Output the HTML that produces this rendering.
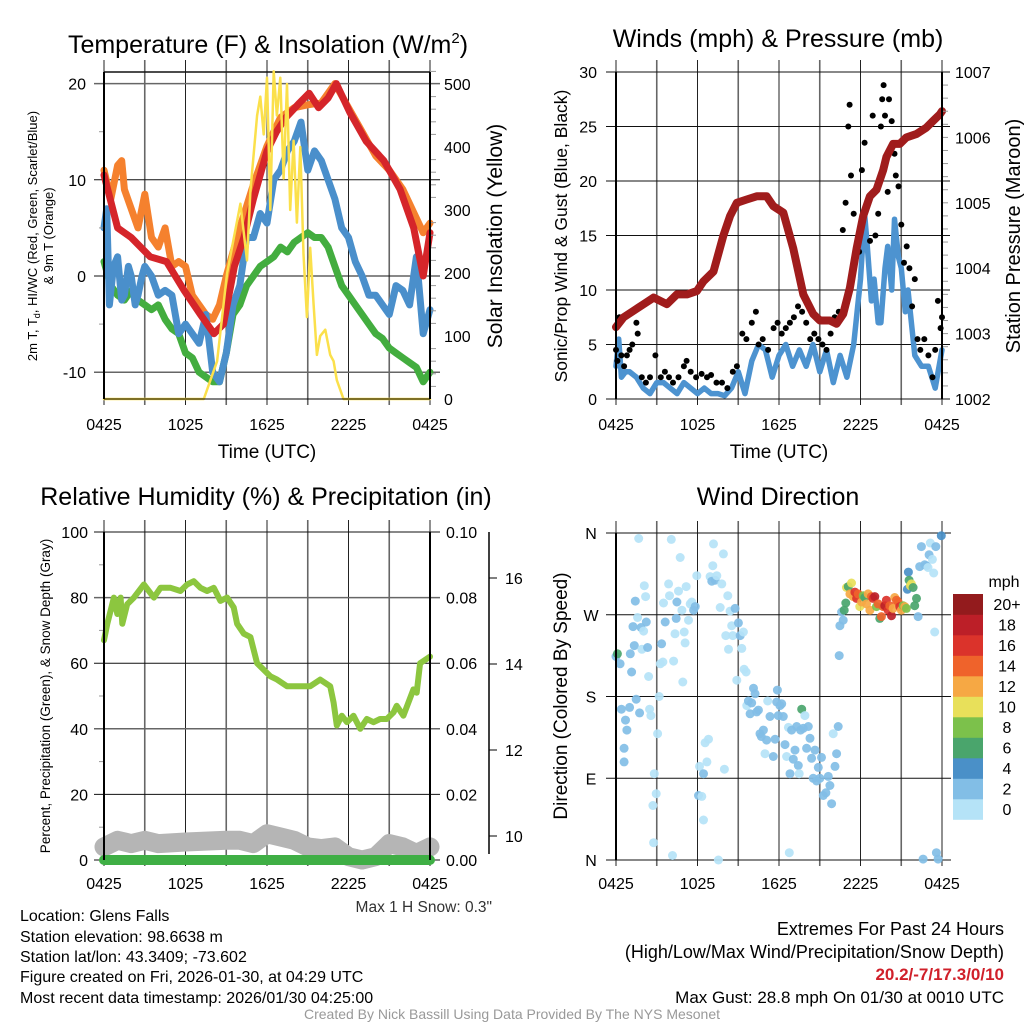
<!DOCTYPE html>
<html><head><meta charset="utf-8">
<style>
html,body{margin:0;padding:0;background:#fff;}
svg{display:block;font-family:"Liberation Sans",sans-serif;}
</style></head>
<body>
<svg id="chart" width="1024" height="1024" viewBox="0 0 1024 1024" xmlns="http://www.w3.org/2000/svg">
<rect width="1024" height="1024" fill="#fff"/>
<g id="grid"></g>
<g id="marks"></g>
<g id="axes"></g>
<g id="labels" font-family="Liberation Sans, sans-serif" fill="#000">
  <text x="268" y="53" font-size="25" text-anchor="middle">Temperature (F) &amp; Insolation (W/m<tspan dy="-10" font-size="15">2</tspan><tspan dy="10">)</tspan></text>
  <text x="778" y="47" font-size="25" text-anchor="middle">Winds (mph) &amp; Pressure (mb)</text>
  <text x="266" y="505" font-size="25" text-anchor="middle">Relative Humidity (%) &amp; Precipitation (in)</text>
  <text x="778" y="505" font-size="25" text-anchor="middle">Wind Direction</text>

  <text x="267" y="458" font-size="19" text-anchor="middle">Time (UTC)</text>
  <text x="779" y="458" font-size="19" text-anchor="middle">Time (UTC)</text>

  <text transform="translate(37,236) rotate(-90)" font-size="13" text-anchor="middle">2m T, T<tspan dy="3" font-size="9">d</tspan><tspan dy="-3">, HI/WC (Red, Green, Scarlet/Blue)</tspan></text>
  <text transform="translate(53,236) rotate(-90)" font-size="13" text-anchor="middle">&amp; 9m T (Orange)</text>
  <text transform="translate(502,236) rotate(-90)" font-size="21" text-anchor="middle">Solar Insolation (Yellow)</text>
  <text transform="translate(567,236) rotate(-90)" font-size="17.5" text-anchor="middle">Sonic/Prop Wind &amp; Gust (Blue, Black)</text>
  <text transform="translate(1020,236) rotate(-90)" font-size="20" text-anchor="middle">Station Pressure (Maroon)</text>
  <text transform="translate(50,696) rotate(-90)" font-size="13.5" text-anchor="middle">Percent, Precipitation (Green), &amp; Snow Depth (Gray)</text>
  <text transform="translate(567,696) rotate(-90)" font-size="19" text-anchor="middle">Direction (Colored By Speed)</text>

  <text x="492" y="912" font-size="15.5" text-anchor="end" fill="#333">Max 1 H Snow: 0.3"</text>

  <text x="20" y="921" font-size="16">Location: Glens Falls</text>
  <text x="20" y="942" font-size="16">Station elevation: 98.6638 m</text>
  <text x="20" y="962" font-size="16">Station lat/lon: 43.3409; -73.602</text>
  <text x="20" y="982" font-size="16">Figure created on Fri, 2026-01-30, at 04:29 UTC</text>
  <text x="20" y="1003" font-size="16">Most recent data timestamp: 2026/01/30 04:25:00</text>

  <text x="1004" y="935" font-size="18" text-anchor="end">Extremes For Past 24 Hours</text>
  <text x="1004" y="958" font-size="18" text-anchor="end">(High/Low/Max Wind/Precipitation/Snow Depth)</text>
  <text x="1004" y="980" font-size="17" font-weight="bold" fill="#d0202a" text-anchor="end">20.2/-7/17.3/0/10</text>
  <text x="1004" y="1003" font-size="17" text-anchor="end">Max Gust: 28.8 mph On 01/30 at 0010 UTC</text>
  <text x="512" y="1019" font-size="14" text-anchor="middle" fill="#999">Created By Nick Bassill Using Data Provided By The NYS Mesonet</text>
</g>
</svg>
<script>
// ---------- DATA ----------
const timeTickLabels = ["0425","1025","1625","2225","0425"];
const tempTicks = [-10,0,10,20];
const insolTicks = [0,100,200,300,400,500];
const windTicks = [0,5,10,15,20,25,30];
const pressTicks = [1002,1003,1004,1005,1006,1007];
const rhTicks = [0,20,40,60,80,100];
const precipTicks = ["0.00","0.02","0.04","0.06","0.08","0.10"];
const snowTicks = [10,12,14,16];
const dirTickLabels = ["N","E","S","W","N"];
const speedLegendLabels = ["0","2","4","6","8","10","12","14","16","18","20+"];
const speedColors = ["#b5e3f7","#82bee6","#4a90c8","#4aa56c","#7cc14b","#e8e05a","#f6a844","#ef632b","#db332b","#bc1f28","#931b1d"];

const redHours = [0,1,2,3.4,4.6,5.9,7.1,8.1,8.8,9.6,10.3,11,12,12.7,13.4,14.4,15.1,15.8,16.5,17.1,18.1,19.3,20.6,21.8,22.8,23.5,24];
const redTemp  = [10.5,5,4,2,1.5,-1.5,-4,-6,-5,1,4,8,13,15,16.5,18,19,17.5,18.5,20,17,14,12,9,5,0,4.5];

const orangeHours = [0,0.5,1,1.3,1.5,2,2.5,3,3.5,4,4.5,5,5.5,6,6.5,7,7.5,8,8.5,9,10,11,12,13,14,15,16,17,18,19,20,21,22,23,23.5,24];
const orangeTemp  = [11,8,11.5,12,9,7,5,8.5,4,3,5,1,1.5,1,-2,-3,-4,-4.5,-3,0,5,9.5,13.5,16.5,17.5,17.8,18,20,17.5,15,12.5,11,9,6,4.5,5.5];

const blueHours = [0,0.2,0.4,0.7,1,1.3,1.5,1.8,2,2.3,2.5,2.8,3,3.5,4,4.5,5,5.5,6,6.5,7,7.5,8,8.5,9,9.5,10,10.5,11,11.5,12,12.5,13,13.5,14,14.5,15,15.5,16,16.5,17,17.5,18,18.5,19,19.5,20,20.5,21,21.5,22,22.5,23,23.5,24];
const blueTemp  = [5,7,-3,1,2,-2.5,-2,1,0,-3,-2,0,1,0,-2,-1.5,-2,-6,-5,-6,-7,-4,-10,-11,-8,-3,-1,4,4,6.5,5.5,10,11,13,14,16,11,13,12,10,8,5,4,1.5,0,-2,-2,-3,-4,-1,-1.5,-3,2,-6,-3.5];

const greenHours = [0,0.5,1,1.5,2,2.5,3,3.5,4,4.5,5,5.5,6,6.5,7,7.5,8,8.5,9,9.5,10,10.5,11,11.5,12,12.5,13,13.5,14,14.5,15,15.5,16,16.5,17,17.5,18,18.5,19,19.5,20,20.5,21,21.5,22,22.5,23,23.5,24];
const greenTemp  = [1.5,-1,-2,-2.5,-1.5,-2.5,-3,-3.5,-3,-4.5,-5.5,-6,-8,-8.5,-10,-10.5,-11,-11,-8,-4,-3,-1,0,1,1.5,2,3,2.5,3.5,4,4.5,4,4,3,1,-1,-2,-3,-4,-5,-6,-6.5,-7.5,-8,-8.5,-9,-9.5,-11,-10];

const solarHours = [0,7.35,8.33,9.06,10.04,10.53,10.78,11.27,11.51,11.76,12.0,12.24,12.49,12.73,12.98,13.22,13.47,13.71,13.96,14.2,14.45,14.69,14.94,15.18,15.43,15.67,15.92,16.29,16.65,16.9,17.14,17.63,24];
const solarValues = [0,0,60,200,310,220,330,450,480,420,510,300,520,450,510,350,500,300,410,280,400,230,130,240,150,70,100,110,70,60,30,0,0];

const pressHours = [0,0.56,1.3,2.03,2.77,3.75,4.48,5.22,5.95,6.44,7.18,7.91,8.4,8.89,9.62,10.36,11.09,11.58,12.32,13.05,13.79,14.52,15.01,15.75,16.24,16.73,17.22,17.71,18.2,18.69,19.18,19.67,19.91,20.4,20.89,21.38,22.11,22.85,23.34,23.83,24];
const pressValues = [1003.1,1003.25,1003.35,1003.45,1003.55,1003.45,1003.6,1003.6,1003.65,1003.8,1003.95,1004.5,1004.8,1005.0,1005.05,1005.1,1005.1,1004.95,1004.85,1004.3,1003.6,1003.3,1003.2,1003.2,1003.15,1003.3,1003.7,1004.3,1004.8,1005.1,1005.2,1005.5,1005.7,1005.9,1005.9,1006.0,1006.05,1006.15,1006.25,1006.35,1006.4];

const windHours = [0,0.2,0.4,0.7,1,1.5,2,2.5,3,3.5,4,4.5,5,5.5,6,6.5,7,7.5,8,8.5,9,9.5,10,10.5,11,11.5,12,12.5,13,13.5,14,14.5,15,15.5,16,16.5,17,17.5,18,18.3,18.5,18.8,19,19.3,19.5,19.8,20,20.3,20.5,20.8,21,21.3,21.5,22,22.5,23,23.5,24];
const windSpeed = [3,5.5,2,2.5,2.5,2,1,0.5,1.5,1.5,1,0.5,1.5,1,0.5,1,0.5,0.5,0.3,1,2.5,0.5,3.5,5,4.5,2,4,5,3,4.5,3,5,2.5,4.5,1.5,4,2,5,11,17,14,9,11,7,7,12,14,10,16.5,13,12,8,10,4,3,3,1,4.5];

const gustHours = [0,0.1,0.25,0.4,0.6,0.8,1,1.2,1.5,1.6,1.9,2.2,2.5,2.9,3.3,3.6,3.9,4.2,4.6,5,5.2,5.5,5.9,6.3,6.7,7,7.4,7.8,8.2,8.6,8.9,9.3,9.6,10,10.3,10.5,10.8,11.2,11.6,11.9,12.2,12.5,12.8,13.1,13.4,13.7,14,14.3,14.6,14.9,15.2,15.5,15.8,16.1,16.4,16.7,16.9,17.1,17.2,17.3,17.5,17.7,17.9,18.1,18.3,18.5,18.7,18.9,19.1,19.3,19.5,19.6,19.7,19.8,20,20.1,20.3,20.5,20.6,20.8,21,21.2,21.4,21.6,21.8,22,22.2,22.4,22.7,23,23.3,23.5,23.7,23.9,24];
const gustSpeed = [4.5,3.5,7.5,4,3,4,4.5,5,7,6,2,1.5,2,4,2,2.5,2,1.5,2,3,3.5,2.5,2,2.3,2,2.2,1.5,1.5,1,2.5,3,6,5.5,7,8,5,5.5,4.5,6.5,7,6,6.5,7,7.5,8.5,8,7,5.5,6,5.5,5,4.5,6,7.5,8,15.5,18,25,27,20.5,17,14,13.5,21,23.5,18,14.5,26,15,17,25,27.5,28.8,26,19,27.5,25.5,22.5,20.5,19.5,16,12.5,14,12,8.5,11,5.5,4.5,5.5,4,2,4.5,9,6.5,7.5];

const rhHours = [0,0.24,0.73,0.98,1.22,1.35,1.71,2.2,2.94,3.67,4.16,4.9,5.63,6.12,6.61,7.1,7.59,8.08,8.57,9.06,9.55,9.8,10.29,10.78,11.27,11.76,12.25,12.74,13.47,14.45,15.18,15.92,16.65,16.9,17.14,17.51,17.88,18.37,18.86,19.35,19.84,20.33,20.82,21.31,21.55,22.04,22.41,22.78,23.02,23.27,24];
const rhValues = [67,72,80,75,80,72,78,80,84,80,83,83,82,84,85,83,82,83,79,80,77,72,69,68,60,58,56,55,53,53,53,55,53,48,41,44,42,44,40,43,42,43,43,45,47,44,48,52,51,60,62];

const snowHours = [0,1,2,3,4,6,9,10,11,12,13,14,15,16,17,18,19,20,21,22,23,24];
const snowValues = [4,6,5,6,5,5.5,6,6,5,8,7,6,4,3.5,4,1,0,1,5,4,2,4];
const precipHours = [0,24];
const precipValues = [0,0];

const dirHours = [0,0.1,0.3,0.4,0.6,0.6,0.7,0.8,1.0,1.05,1.15,1.25,1.35,1.42,1.49,1.59,1.67,1.74,1.84,1.91,2.03,2.08,2.18,2.23,2.33,2.4,2.47,2.57,2.72,2.77,2.82,2.96,3.06,3.18,3.26,3.36,3.45,3.5,3.62,3.87,3.94,4.07,4.16,4.24,4.34,4.43,4.48,4.6,4.73,4.85,4.92,5.02,5.09,5.17,5.34,5.46,5.58,5.71,5.83,5.95,6.07,6.15,6.32,6.44,6.44,6.56,6.69,6.81,6.93,7.05,7.13,7.18,7.3,7.42,7.54,7.67,7.79,7.91,7.98,8.08,8.23,8.28,8.4,8.52,8.6,8.77,8.89,9.01,9.14,9.26,9.38,9.43,9.58,9.63,9.75,9.87,9.99,10.12,10.24,10.36,10.48,10.6,10.7,10.85,10.97,11.09,11.17,11.34,11.58,11.71,11.83,11.88,11.95,12.07,12.2,12.32,12.44,12.56,12.69,12.76,12.81,12.93,13.05,13.18,13.3,13.42,13.49,13.59,13.67,13.79,13.91,14.03,14.16,14.28,14.4,14.52,14.65,14.77,14.89,15.01,15.13,15.26,15.45,15.63,15.75,15.87,15.99,16.12,16.24,16.36,16.43,16.48,16.61,16.73,16.8,16.92,16.97,17.1,17.22,17.34,17.46,17.59,17.71,17.83,17.95,18.08,18.2,18.32,18.44,18.56,18.69,18.81,18.93,19.05,19.18,19.3,19.42,19.54,19.67,19.79,19.91,20.03,20.16,20.28,20.4,20.52,20.65,20.77,20.89,21.01,21.14,21.26,21.38,21.45,21.53,21.58,21.67,21.75,21.87,21.99,22.12,22.24,22.36,22.48,22.61,22.73,22.85,22.97,23.05,23.14,23.29,23.39,23.46,23.54,23.59,23.71,23.95];
const dirDegrees = [224,227,216,166,123,108,154,143,168,227,207,257,236,285,177,267,354,162,256,232,252,302,290,262,234,202,166,159,60,19,95,73,139,180,216,238,218,283,262,304,291,353,5,219,249,266,284,296,333,275,196,251,239,301,264,282,284,275,279,313,71,103,70,95,44,129,108,133,312,307,324,348,308,313,0,278,304,337,100,247,291,232,274,258,247,277,198,261,247,233,251,210,207,170,175,161,173,189,183,163,165,139,136,143,117,132,175,158,114,133,174,187,159,170,172,158,127,114,146,8,95,143,111,121,147,104,95,143,166,145,159,123,147,134,112,90,121,87,102,90,113,71,74,92,82,62,139,103,117,147,225,258,273,264,275,283,300,301,293,305,290,295,288,293,279,284,291,289,282,293,275,290,288,290,279,282,266,268,279,280,286,275,280,269,277,289,286,284,279,275,280,279,277,298,317,308,302,304,300,280,288,268,323,345,1,325,324,322,336,349,331,316,251,345,8,1,357];
const dirSpeed = [3,6,3,3,3,3,3,3,3,3,3,3,3,3,3,1,1,3,3,1,1,1,1,3,3,1,1,1,1,1,1,1,1,1,1,3,1,1,3,1,1,1,1,1,1,3,3,1,1,1,1,1,1,1,1,1,1,3,3,1,3,1,1,3,1,1,1,1,1,3,1,1,3,1,1,1,1,1,1,1,1,1,1,1,1,3,1,3,3,1,1,1,1,1,3,3,3,3,3,3,3,3,3,3,1,3,1,3,3,3,3,3,3,3,3,3,3,1,1,1,3,3,3,3,3,3,1,3,6,3,1,3,3,3,3,3,3,3,3,3,3,3,3,3,3,3,1,3,3,3,3,3,3,3,6,6,10,6,12,10,12,16,16,14,10,12,8,6,12,12,12,14,16,18,8,14,6,14,14,18,16,16,14,18,12,12,14,14,16,12,8,12,8,4,4,6,10,10,6,6,6,3,3,3,3,3,3,1,3,1,1,1,1,3,3,3,4];

// ---------- HELPERS ----------
const NS = "http://www.w3.org/2000/svg";
const gGrid = document.getElementById("grid");
const gMarks = document.getElementById("marks");
const gAxes = document.getElementById("axes");
function mk(tag, attrs, parent, name, inter) {
  const el = document.createElementNS(NS, tag);
  for (const k in attrs) el.setAttribute(k, attrs[k]);
  
  
  parent.appendChild(el);
  return el;
}
function line(x1,y1,x2,y2,stroke,w,parent,name){
  return mk("line",{x1:x1,y1:y1,x2:x2,y2:y2,stroke:stroke,"stroke-width":w},parent,name,false);
}
function txt(x,y,s,size,anchor,parent,name){
  const t = mk("text",{x:x,y:y,"font-size":size,"text-anchor":anchor,fill:"#000"},parent,name,false);
  t.textContent = s; return t;
}
function path(xs, ys, sx, sy, color, w, name){
  let d = "";
  for (let i=0;i<xs.length;i++) d += (i?"L":"M") + sx(xs[i]).toFixed(1) + "," + sy(ys[i]).toFixed(1);
  return mk("path",{d:d,fill:"none",stroke:color,"stroke-width":w,"stroke-linejoin":"round","stroke-linecap":"round"},gMarks,name,false);
}

function panel(x0,x1,yT,yB,tag,xLabelY){
  const sx = h => x0 + (x1-x0)*h/24;
  for (let i=0;i<=8;i++){
    const x = sx(i*3);
    line(x, yT-12, x, yB+6, i%2? "#666":"#222", i%2?1.6:1, gGrid, tag+"-time-gridline");
  }
  timeTickLabels.forEach((l,i)=>txt(sx(i*6), xLabelY, l, 16, "middle", gAxes, tag+"-x-tick-label"));
  return sx;
}

// ---------- PANEL 1: Temperature ----------
{
  const x0=104,x1=430,yT=72,yB=399;
  const sx = panel(x0,x1,yT,yB,"temp",430);
  const sy = v => 276 - v*9.62;
  const sr = v => 399 - v*0.63;
  tempTicks.forEach(v=>{
    line(94, sy(v), 440, sy(v), (v===20||v===-10)?"#666":"#111", (v===20||v===-10)?1.5:1, gGrid, "temp-gridline");
    txt(86, sy(v)+6, String(v), 16, "end", gAxes, "temp-y-tick-label");
  });
  [-5,5,15].forEach(v=>line(99,sy(v),104,sy(v),"#999",1,gAxes,"temp-minor-tick"));
  insolTicks.forEach(v=>txt(444, sr(v)+6, String(v), 16, "start", gAxes, "insolation-y-tick-label"));
  for (let v=20; v<=520; v+=20) if (v%100) line(430, sr(v), 436, sr(v), "#999", 1, gAxes, "insolation-minor-tick");
  line(x0,yT,x1,yT,"#111",1.5,gGrid,"temp-top-frame");
  line(x0,yT,x0,yB,"#000",2,gAxes,"temp-left-axis");
  line(x1,yT,x1,yB,"#000",2,gAxes,"insolation-right-axis");
  line(x0,yB,x1,yB,"#000",1,gAxes,"temp-bottom-axis");
  path(orangeHours, orangeTemp, sx, sy, "#f5812e", 7, "nine-m-temp-line");
  path(greenHours, greenTemp, sx, sy, "#43ad3f", 7, "wind-chill-line");
  path(blueHours, blueTemp, sx, sy, "#4a8fcb", 7, "dewpoint-line");
  path(redHours, redTemp, sx, sy, "#d5252a", 7, "two-m-temp-line");
  path(solarHours, solarValues, sx, sr, "#fbe04b", 2.5, "solar-insolation-line");
}

// ---------- PANEL 2: Winds ----------
{
  const x0=616,x1=942,yT=72,yB=399;
  const sx = panel(x0,x1,yT,yB,"wind",430);
  const sy = v => 399 - v*10.9;
  const sp = p => 399 - (p-1002)*65.4;
  windTicks.forEach(v=>{
    line(606, sy(v), 950, sy(v), "#111", 1, gGrid, "wind-gridline");
    txt(597, sy(v)+6, String(v), 16, "end", gAxes, "wind-y-tick-label");
  });
  pressTicks.forEach(v=>txt(955, sp(v)+6, String(v), 16, "start", gAxes, "pressure-y-tick-label"));
  for (let p=1002.2; p<1007; p+=0.2) line(942, sp(p), 948, sp(p), "#999", 1, gAxes, "pressure-minor-tick");
  line(x0,yT,x0,yB,"#000",2,gAxes,"wind-left-axis");
  line(x1,yT,x1,yB,"#000",2,gAxes,"pressure-right-axis");
  path(windHours, windSpeed, sx, sy, "#4d93d0", 5.5, "sustained-wind-line");
  gustHours.forEach((h,i)=>{
    mk("circle",{cx:sx(h).toFixed(1),cy:sy(gustSpeed[i]).toFixed(1),r:3,fill:"#000"},gMarks,"gust-point",false);
  });
  path(pressHours, pressValues, sx, sp, "#a01c1c", 8, "station-pressure-line");
}

// ---------- PANEL 3: RH ----------
{
  const x0=104,x1=430,yT=532,yB=860;
  const sx = panel(x0,x1,yT,yB,"rh",889);
  const sy = v => 860 - v*3.28;
  rhTicks.forEach(v=>{
    line(94, sy(v), 440, sy(v), (v===40||v===80)?"#666":"#111", (v===40||v===80)?1.5:1, gGrid, "rh-gridline");
    txt(88, sy(v)+6, String(v), 16, "end", gAxes, "rh-y-tick-label");
  });
  precipTicks.forEach((l,i)=>txt(446, sy(i*20)+6, l, 16, "start", gAxes, "precip-y-tick-label"));
  for (let v=10; v<100; v+=20) line(99,sy(v),104,sy(v),"#999",1,gAxes,"rh-minor-tick");
  line(x0,yT,x0,yB,"#000",2,gAxes,"rh-left-axis");
  line(x1,yT,x1,yB,"#000",2,gAxes,"precip-right-axis");
  line(489,yT,489,yB-6,"#000",1.5,gAxes,"snow-depth-axis");
  const ss = v => 836 - (v-10)*43;
  snowTicks.forEach(v=>{
    line(489, ss(v), 497, ss(v), "#000", 1, gAxes, "snow-depth-tick");
    txt(505, ss(v)+6, String(v), 16, "start", gAxes, "snow-depth-tick-label");
  });
  path(snowHours, snowValues, sx, sy, "#b5b5b5", 19, "snow-depth-line");
  path(precipHours, precipValues, sx, sy, "#3faf45", 10, "precipitation-line");
  path(rhHours, rhValues, sx, sy, "#8cc63f", 6, "relative-humidity-line");
}

// ---------- PANEL 4: Wind direction ----------
{
  const x0=616,x1=942,yT=533,yB=860;
  const sx = panel(x0,x1,yT,yB,"dir",889);
  const sd = d => 860 - d*0.9083;
  dirTickLabels.forEach((l,i)=>{
    line(606, sd(i*90), 951, sd(i*90), "#111", 1, gGrid, "direction-gridline");
    txt(591, sd(i*90)+6, l, 16, "middle", gAxes, "direction-tick-label");
  });
  line(x0,yT,x0,yB,"#000",2,gAxes,"direction-left-axis");
  dirHours.forEach((h,i)=>{
    const c = speedColors[Math.min(10, Math.floor(dirSpeed[i]/2))];
    mk("circle",{cx:sx(h).toFixed(1),cy:sd(dirDegrees[i]).toFixed(1),r:4.5,fill:c,"fill-opacity":0.92},gMarks,"direction-point",false);
  });
  txt(1004, 587, "mph", 16, "middle", gAxes, "speed-legend-title");
  speedColors.forEach((c,i)=>{
    const y = 594 + (10-i)*20.5;
    mk("rect",{x:953,y:y,width:30,height:20.8,fill:c},gAxes,"speed-legend-swatch",false);
    txt(1007, y+16, speedLegendLabels[i], 16, "middle", gAxes, "speed-legend-label");
  });
}
</script>
</body></html>
